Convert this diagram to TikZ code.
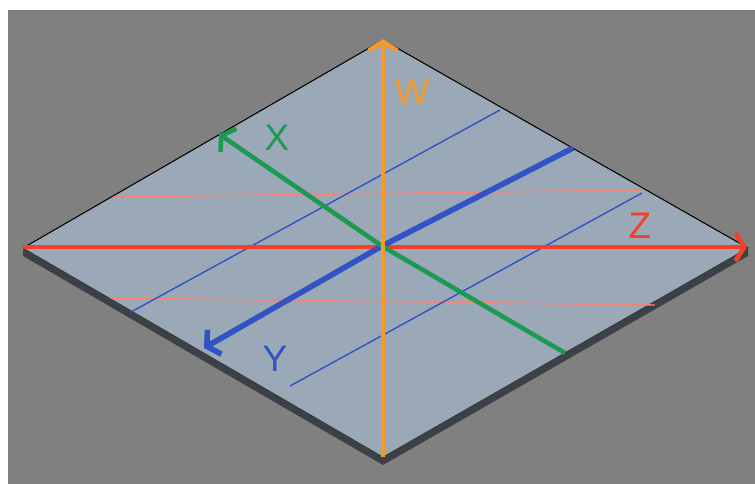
\documentclass[tikz,border=0pt]{standalone}
\usepackage{fontspec}
\setsansfont{Liberation Sans}
\usetikzlibrary{arrows.meta}

\definecolor{bggray}{HTML}{808080}
\definecolor{plate}{HTML}{9AA8B8}
\definecolor{side}{HTML}{3C4148}
\definecolor{worange}{HTML}{F59A2C}
\definecolor{xgreen}{HTML}{1C9A52}
\definecolor{zred}{HTML}{F2402A}
\definecolor{yblue}{HTML}{3253C4}

\tikzset{
  axis/.style={line width=2.6pt, line join=round, -{Straight Barb[length=5pt,width=16pt]}},
  thinred/.style={line width=0.8pt, draw=zred!65},
  thinblue/.style={line width=0.8pt, draw=yblue},
  lab/.style={font=\sffamily\fontsize{21}{24}\selectfont, inner sep=0pt}
}

\begin{document}
\begin{tikzpicture}[x=0.02cm,y=-0.02cm]
                      % frame
                      \fill[white] (0,0) rectangle (755,484);
                      \fill[bggray] (8,10) rectangle (755,484);
                      % plate corners
                      \coordinate (Top) at (383,40);
                      \coordinate (Left) at (23,248);
                      \coordinate (Right) at (748,248);
                      \coordinate (Bot) at (383,457);
                      \coordinate (LeftD) at (23,256);
                      \coordinate (RightD) at (748,256);
                      \coordinate (BotD) at (383,465);
                      \coordinate (O) at (382,246);
                      \fill[side] (Left) -- (Bot) -- (Right) -- (RightD) -- (BotD) -- (LeftD) -- cycle;
                      \fill[plate] (Top) -- (Left) -- (Bot) -- (Right) -- cycle;
                      \draw[black, line width=0.6pt] (Left) -- (Top) -- (Right);
                      \draw[black!80, line width=0.4pt] (Left) -- (Bot) -- (Right);
                      % thin guide lines
                      \coordinate (R1a) at (113,197);
                      \coordinate (R1b) at (643,190);
                      \coordinate (R2a) at (110,298);
                      \coordinate (R2b) at (655,305);
                      \coordinate (B1a) at (131,312);
                      \coordinate (B1b) at (500,110);
                      \coordinate (B2a) at (290,386);
                      \coordinate (B2b) at (642,193);
                      \path[thinred] (R1a) edge (R1b) (R2a) edge (R2b);
                      \path[thinblue] (B1a) edge (B1b) (B2a) edge (B2b);
                      % axes
                      \coordinate (Zend) at (23,247);
                      \coordinate (Ztip) at (747,247);
                      \coordinate (Xend) at (565,353);
                      \coordinate (Xtip) at (219,134);
                      \coordinate (Yend) at (573,148);
                      \coordinate (Ytip) at (204,348);
                      \coordinate (Wend) at (383,457);
                      \coordinate (Wtip) at (383,39);
                      \draw[axis, draw=zred] (Zend) -- (Ztip);
                      \draw[axis, draw=yblue, line width=3.2pt] (Yend) -- (O) -- (Ytip);
                      \draw[axis, draw=xgreen] (Xend) -- (O) -- (Xtip);
                      \draw[axis, draw=worange] (Wend) -- (Wtip);
                      % labels
                      \node[lab, text=worange] (LW) at (412,92) {W};
                      \node[lab, text=xgreen] (LX) at (277,138) {X};
                      \node[lab, text=zred] (LZ) at (640,226) {Z};
                      \node[lab, text=yblue] (LY) at (275,359) {Y};
                    \end{tikzpicture}
\end{document}
